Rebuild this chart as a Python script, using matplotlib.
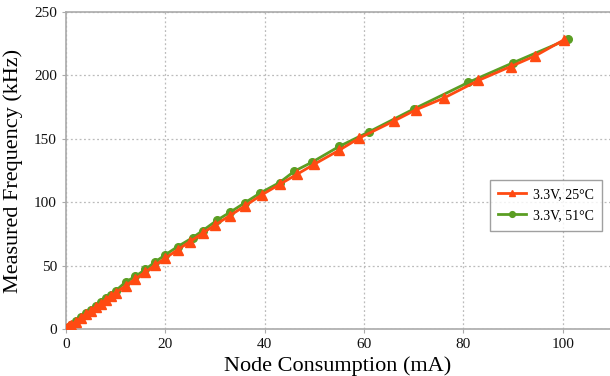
import matplotlib
matplotlib.use("Agg")
import matplotlib.pyplot as plt

# 3.3V, 25°C
x_25 = [0.3, 0.7, 1, 2, 3, 4, 5, 6, 7, 8, 9, 10, 12, 14, 16, 18, 20, 22.5, 25,
        27.5, 30, 33, 36, 39.5, 43, 46.5, 50, 55, 59, 66, 70.5, 76, 83, 89.5,
        94.5, 100.2]
y_25 = [0.9, 2, 3, 5.8, 8.7, 11.6, 14.4, 17.3, 20, 23, 25.8, 28.6, 34, 39.6,
        45, 50.5, 55.8, 62.5, 69, 75.5, 82, 89.4, 97, 106, 114, 122, 130, 141,
        150.5, 164, 173, 182, 196, 207, 215.5, 228]

# 3.3V, 51°C
x_51 = [0, 1, 2, 3, 4, 5, 6, 7, 8, 9, 10, 12, 14, 16, 18, 20, 22.5, 25.5,
        27.5, 30.5, 33, 36, 39, 43, 46, 49.5, 55, 61, 70, 81, 90, 101]
y_51 = [0.5, 3.5, 6.5, 9.5, 12.3, 15.2, 18, 21, 24.2, 27, 30, 37, 41.5, 47,
        53, 58.5, 65, 72, 77.5, 86, 92, 99.5, 107, 115.5, 124.5, 131.5, 144,
        155.5, 173.5, 194.5, 210, 228.5]

plt.rcParams['font.family'] = ['Liberation Serif', 'DejaVu Serif']

fig = plt.figure(figsize=(6.1, 3.76), dpi=100)
ax = fig.add_axes([0.108, 0.125, 0.892, 0.843])

ax.plot(x_51, y_51, color='#5b9e23', marker='o', markersize=5.5, lw=2,
        label='3.3V, 51°C', zorder=3)
ax.plot(x_25, y_25, color='#ff4a12', marker='^', markersize=6.5, lw=2,
        label='3.3V, 25°C', zorder=4)

ax.set_xlim(0, 109.5)
ax.set_ylim(0, 250)
ax.set_xticks([0, 20, 40, 60, 80, 100])
ax.set_yticks([0, 50, 100, 150, 200, 250])
ax.grid(True, linestyle=(0, (1.5, 2)), color='#bbbbbb', lw=0.9)
ax.set_axisbelow(True)

for s in ['left', 'bottom', 'top']:
    ax.spines[s].set_color('#aaaaaa')
    ax.spines[s].set_linewidth(1.2)
ax.spines['right'].set_visible(False)
ax.tick_params(colors='#aaaaaa', labelcolor='#111111', labelsize=11, length=3)

ax.set_xlabel('Node Consumption (mA)', fontsize=16, labelpad=4)
ax.set_ylabel('Measured Frequency (kHz)', fontsize=16, labelpad=8)

h, l = ax.get_legend_handles_labels()
leg = ax.legend(h[::-1], l[::-1], loc='center', bbox_to_anchor=(0.882, 0.391),
                fontsize=10, fancybox=False, edgecolor='#888888',
                handlelength=2.0, handletextpad=0.5, markerscale=0.75,
                borderpad=0.6, labelspacing=0.6)
leg.get_frame().set_linewidth(1.0)

fig.savefig('out.png', dpi=100)
